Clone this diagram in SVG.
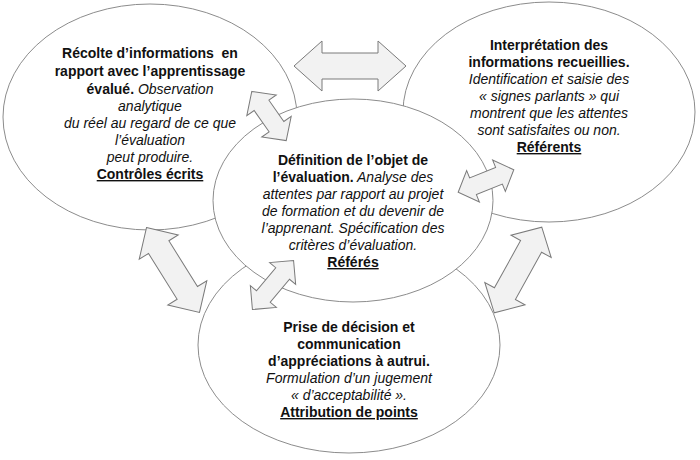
<svg xmlns="http://www.w3.org/2000/svg" width="700" height="460" viewBox="0 0 700 460">
<style>
.ell{fill:#fff;stroke:#8c8c8c;stroke-width:1}
.arr{fill:#f2f2f2;stroke:#7a7a7a;stroke-width:1;stroke-linejoin:miter}
text{font-family:"Liberation Sans",Arial,sans-serif;font-size:14px;fill:#111;text-anchor:middle}
.b{font-weight:bold}
.i{font-style:italic}
.u{font-weight:bold;text-decoration:underline}
</style>
<rect width="700" height="460" fill="#fff"/>
<g id="node-recolte">
<ellipse class="ell" cx="150" cy="117" rx="147" ry="113"/>
<text x="150" y="58" class="b">Récolte d’informations&#160; en</text>
<text x="150" y="76" class="b">rapport avec l’apprentissage</text>
<text x="150" y="94"><tspan class="b">évalué.</tspan><tspan class="i"> Observation</tspan></text>
<text x="150" y="111" class="i">analytique</text>
<text x="150" y="128" class="i">du réel au regard de ce que</text>
<text x="150" y="145" class="i">l’évaluation</text>
<text x="150" y="162" class="i">peut produire.</text>
<text x="150" y="179" class="u">Contrôles écrits</text>
</g>
<g id="node-interpretation">
<ellipse class="ell" cx="549" cy="112" rx="146" ry="110"/>
<text x="549" y="50" class="b">Interprétation des</text>
<text x="549" y="67" class="b">informations recueillies.</text>
<text x="549" y="84" class="i">Identification et saisie des</text>
<text x="549" y="101" class="i">« signes parlants » qui</text>
<text x="549" y="118" class="i">montrent que les attentes</text>
<text x="549" y="135" class="i">sont satisfaites ou non.</text>
<text x="549" y="152" class="u">Référents</text>
</g>
<g id="node-decision">
<ellipse class="ell" cx="349" cy="345" rx="151" ry="108"/>
<text x="349" y="332" class="b">Prise de décision et</text>
<text x="349" y="349" class="b">communication</text>
<text x="349" y="366" class="b">d’appréciations à autrui.</text>
<text x="349" y="383" class="i">Formulation d’un jugement</text>
<text x="349" y="400" class="i">« d’acceptabilité ».</text>
<text x="349" y="417" class="u">Attribution de points</text>
</g>
<g id="node-definition">
<ellipse class="ell" cx="353" cy="200.5" rx="140" ry="101.5"/>
<text x="353" y="165" class="b">Définition de l’objet de</text>
<text x="353" y="182"><tspan class="b">l’évaluation.</tspan><tspan class="i"> Analyse des</tspan></text>
<text x="353" y="199" class="i">attentes par rapport au projet</text>
<text x="353" y="216" class="i">de formation et du devenir de</text>
<text x="353" y="233" class="i">l’apprenant. Spécification des</text>
<text x="353" y="250" class="i">critères d’évaluation.</text>
<text x="353" y="267" class="u">Référés</text>
</g>
<g id="connectors">
<polygon class="arr" transform="translate(350,66)" points="-56,0 -28,-25 -28,-13 28,-13 28,-25 56,0 28,25 28,13 -28,13 -28,25"/>
<polygon class="arr" transform="translate(269,116) rotate(55)" points="-30,0 -13,-18 -13,-9 13,-9 13,-18 30,0 13,18 13,9 -13,9 -13,18"/>
<polygon class="arr" transform="translate(486,181) rotate(-22)" points="-30,0 -14,-17 -14,-9 14,-9 14,-17 30,0 14,17 14,9 -14,9 -14,17"/>
<polygon class="arr" transform="translate(173,270) rotate(58)" points="-50,0 -27,-23 -27,-12 27,-12 27,-23 50,0 27,23 27,12 -27,12 -27,23"/>
<polygon class="arr" transform="translate(273,285) rotate(-50)" points="-32,0 -15,-17 -15,-9 15,-9 15,-17 32,0 15,17 15,9 -15,9 -15,17"/>
<polygon class="arr" transform="translate(518,270) rotate(-61)" points="-49,0 -27,-23 -27,-12 27,-12 27,-23 49,0 27,23 27,12 -27,12 -27,23"/>
</g>
</svg>
